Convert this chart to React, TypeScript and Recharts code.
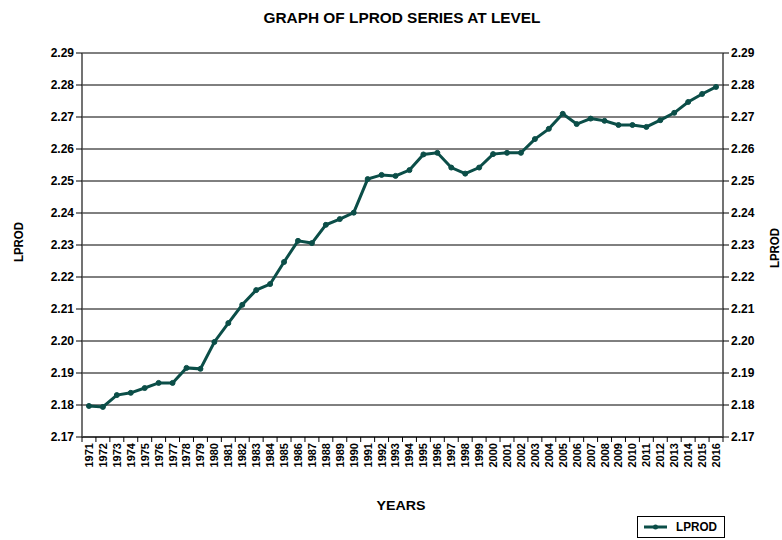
import React from "react";
import { LineChart, Line, XAxis, YAxis, CartesianGrid } from "recharts";

const years = [
  "1971", "1972", "1973", "1974", "1975", "1976", "1977", "1978", "1979", "1980",
  "1981", "1982", "1983", "1984", "1985", "1986", "1987", "1988", "1989", "1990",
  "1991", "1992", "1993", "1994", "1995", "1996", "1997", "1998", "1999", "2000",
  "2001", "2002", "2003", "2004", "2005", "2006", "2007", "2008", "2009", "2010",
  "2011", "2012", "2013", "2014", "2015", "2016",
];

const lprod = [
  2.1797, 2.1794, 2.1831, 2.1838, 2.1853, 2.1869, 2.1869, 2.1916, 2.1913, 2.1997,
  2.2056, 2.2113, 2.2159, 2.2178, 2.2247, 2.2313, 2.2306, 2.2363, 2.2381, 2.2401,
  2.2506, 2.2519, 2.2516, 2.2534, 2.2583, 2.2588, 2.2542, 2.2523, 2.2542, 2.2584,
  2.2588, 2.2588, 2.2631, 2.2663, 2.2710, 2.2678, 2.2695, 2.2688, 2.2675, 2.2675,
  2.2669, 2.2690, 2.2713, 2.2747, 2.2772, 2.2794,
];

const yTicks = [2.17, 2.18, 2.19, 2.2, 2.21, 2.22, 2.23, 2.24, 2.25, 2.26, 2.27, 2.28, 2.29];

const data = years.map((y, i) => ({ year: y, LPROD: lprod[i] }));

const LINE_COLOR = "#0b4e48";
const FONT = '"Liberation Sans", Arial, Helvetica, sans-serif';
const HALF_BAND = 641 / years.length / 2;

const YearTick = (props: any) => {
  const { x, y, payload, index } = props;
  return (
    <g>
      <line x1={x - HALF_BAND} x2={x - HALF_BAND} y1={y - 8} y2={y - 3} stroke="#000" strokeWidth={1} />
      {index === years.length - 1 && (
        <line x1={x + HALF_BAND} x2={x + HALF_BAND} y1={y - 8} y2={y - 3} stroke="#000" strokeWidth={1} />
      )}
      <text
        x={x}
        y={y - 2}
        transform={`rotate(-90 ${x} ${y - 2})`}
        textAnchor="end"
        dy="0.36em"
        fontSize={11}
        fontWeight="bold"
        fontFamily={FONT}
        fill="#000"
      >
        {payload.value}
      </text>
    </g>
  );
};

export default function App() {
  return (
    <div style={{ position: "absolute", left: 0, top: 0, width: 782, height: 540, background: "#fff" }}>
      <LineChart
        width={782}
        height={540}
        data={data}
        margin={{ top: 53, right: 0, bottom: 0, left: 0 }}
      >
        <CartesianGrid yAxisId="left" vertical={false} horizontal={true} stroke="#000" strokeWidth={1} />
        <XAxis
          dataKey="year"
          height={103}
          interval={0}
          tickLine={false}
          padding={{ left: HALF_BAND, right: HALF_BAND }}
          tick={<YearTick />}
          axisLine={{ stroke: "#000", strokeWidth: 1 }}
        />
        <YAxis
          yAxisId="left"
          width={82}
          domain={[2.17, 2.29]}
          ticks={yTicks}
          allowDataOverflow
          tickFormatter={(v: number) => v.toFixed(2)}
          tick={{ fontSize: 12, fontWeight: "bold", fill: "#000", fontFamily: FONT }}
          tickLine={{ stroke: "#000" }}
          tickSize={6}
          axisLine={{ stroke: "#444", strokeWidth: 1.5 }}
        />
        <YAxis
          yAxisId="right"
          orientation="right"
          width={59}
          domain={[2.17, 2.29]}
          ticks={yTicks}
          allowDataOverflow
          tickFormatter={(v: number) => v.toFixed(2)}
          tick={{ fontSize: 12, fontWeight: "bold", fill: "#000", fontFamily: FONT }}
          tickLine={{ stroke: "#000" }}
          tickSize={6}
          axisLine={{ stroke: "#444", strokeWidth: 1.5 }}
        />
        <Line
          yAxisId="left"
          type="linear"
          dataKey="LPROD"
          stroke={LINE_COLOR}
          strokeWidth={3}
          dot={{ r: 2.5, fill: LINE_COLOR, stroke: LINE_COLOR, strokeWidth: 1 }}
          isAnimationActive={false}
        />
      </LineChart>
      <svg
        width={782}
        height={540}
        style={{ position: "absolute", left: 0, top: 0, pointerEvents: "none" }}
      >
        <text x={402} y={23} textAnchor="middle" fontSize={15} fontWeight="bold" fontFamily={FONT}
          textLength={277} lengthAdjust="spacingAndGlyphs">
          GRAPH OF LPROD SERIES AT LEVEL
        </text>
        <text x={0} y={0} transform="translate(23 242) rotate(-90)" textAnchor="middle" fontSize={13}
          fontWeight="bold" fontFamily={FONT} textLength={40} lengthAdjust="spacingAndGlyphs">
          LPROD
        </text>
        <text x={0} y={0} transform="translate(779 248) rotate(-90)" textAnchor="middle" fontSize={13}
          fontWeight="bold" fontFamily={FONT} textLength={40} lengthAdjust="spacingAndGlyphs">
          LPROD
        </text>
        <text x={401} y={510} textAnchor="middle" fontSize={13} fontWeight="bold" fontFamily={FONT}
          textLength={49} lengthAdjust="spacingAndGlyphs">
          YEARS
        </text>
        <rect x={637.5} y={516.5} width={87} height={21} fill="#fff" stroke="#000" strokeWidth={1} />
        <line x1={644} x2={667} y1={527} y2={527} stroke={LINE_COLOR} strokeWidth={3} />
        <circle cx={655.5} cy={527} r={2.5} fill={LINE_COLOR} />
        <text x={676} y={531} fontSize={12} fontWeight="bold" fontFamily={FONT}
          textLength={41} lengthAdjust="spacingAndGlyphs">
          LPROD
        </text>
      </svg>
    </div>
  );
}
